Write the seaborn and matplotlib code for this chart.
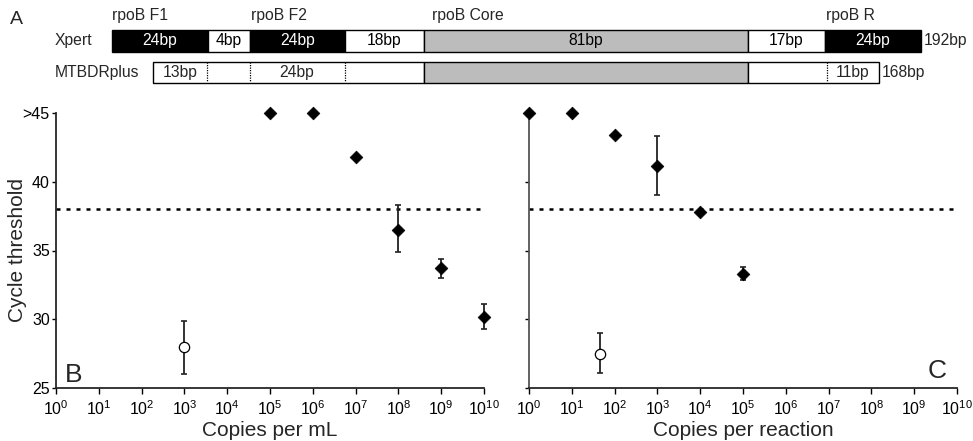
import numpy as np
import pandas as pd
import matplotlib
matplotlib.use("Agg")
import matplotlib.pyplot as plt
import seaborn as sns

### Daten
# Panel B: Kopien pro mL
copies_ml = [1e5, 1e6, 1e7, 1e8, 1e9, 1e10]
ct_ml = [45.0, 45.0, 41.8, 36.5, 33.7, 30.2]
err_lo_ml = [0, 0, 0, 1.6, 0.7, 0.9]
err_hi_ml = [0, 0, 0, 1.8, 0.7, 0.9]
open_ml = [1e3]
open_ct_ml = [28.0]
open_lo_ml = [1.95]
open_hi_ml = [1.85]

# Panel C: Kopien pro Reaktion
copies_rxn = [1, 10, 100, 1e3, 1e4, 1e5]
ct_rxn = [45.0, 45.0, 43.4, 41.15, 37.8, 33.3]
err_lo_rxn = [0, 0, 0, 2.1, 0, 0.45]
err_hi_rxn = [0, 0, 0, 2.2, 0, 0.5]
open_rxn = [45]
open_ct_rxn = [27.5]
open_lo_rxn = [1.4]
open_hi_rxn = [1.5]

threshold = 38.0
y_ticks = [25, 30, 35, 40, 45]
y_ticklabels = ["25", "30", "35", "40", ">45"]
x_decades = list(range(0, 11))

# Panel A: Amplikon-Schema (Segmentgrenzen in Schema-Einheiten)
xpert_edges = [112, 208, 250, 345, 424, 748, 825, 921]
xpert_labels = ["24bp", "4bp", "24bp", "18bp", "81bp", "17bp", "24bp"]
xpert_fill = ["black", "white", "black", "white", "#bcbcbc", "white", "black"]
mtb_edges = [153, 424, 748, 879]
mtb_fill = ["white", "#bcbcbc", "white"]
mtb_dividers = [207, 250, 345, 827]
mtb_label_pos = [180, 297, 853]
mtb_labels = ["13bp", "24bp", "11bp"]
region_names = ["rpoB F1", "rpoB F2", "rpoB Core", "rpoB R"]
region_pos = [112, 251, 432, 826]

### Stil
sns.set_style("ticks")
plt.rcParams['font.family'] = ['Liberation Sans', 'DejaVu Sans']
plt.rcParams['mathtext.fontset'] = 'custom'
plt.rcParams['mathtext.rm'] = 'Liberation Sans'
plt.rcParams['mathtext.it'] = 'Liberation Sans'
plt.rcParams['mathtext.default'] = 'regular'

fig = plt.figure(figsize=(9.73, 4.41), dpi=100)
fs_a = 11.3

### Panel A
ax_a = fig.add_axes([0, 1 - 95 / 441, 1, 95 / 441])
ax_a.set_xlim(0, 973)
ax_a.set_ylim(95, 0)
ax_a.axis("off")

x_left = xpert_edges[:-1]
x_width = np.diff(xpert_edges)
ax_a.barh([40.5] * len(x_width), x_width, left=x_left, height=22,
          color=xpert_fill, edgecolor="black", linewidth=1)
for l, w, lab, c in zip(x_left, x_width, xpert_labels, xpert_fill):
    ax_a.text(l + w / 2, 41, lab, ha="center", va="center", fontsize=fs_a,
              color="white" if c == "black" else "black")

m_left = mtb_edges[:-1]
m_width = np.diff(mtb_edges)
ax_a.barh([72] * len(m_width), m_width, left=m_left, height=21,
          color=mtb_fill, edgecolor="black", linewidth=1)
for d in mtb_dividers:
    ax_a.plot([d, d], [62, 82], color="black", lw=0.9, ls=(0, (1, 1)))
for p, lab in zip(mtb_label_pos, mtb_labels):
    ax_a.text(p, 72.5, lab, ha="center", va="center", fontsize=fs_a)

for name, p in zip(region_names, region_pos):
    ax_a.text(p, 23, name, ha="left", va="bottom", fontsize=fs_a)

ax_a.text(10, 20, "A", ha="left", va="center", fontsize=14)
ax_a.text(55, 41, "Xpert", ha="left", va="center", fontsize=fs_a)
ax_a.text(55, 72, "MTBDRplus", ha="left", va="center", fontsize=fs_a)
ax_a.text(xpert_edges[-1] + 3, 41, "192bp", ha="left", va="center", fontsize=fs_a)
ax_a.text(mtb_edges[-1] + 3, 72, "168bp", ha="left", va="center", fontsize=fs_a)


### Panels B und C
def draw_panel(ax, x, y, lo, hi, ox, oy, olo, ohi, xlabel, left_label):
    ax.axhline(threshold, color="black", lw=1.8, ls=(0, (1.6, 2.4)), zorder=1)
    ax.errorbar(x, y, yerr=[lo, hi], fmt="none", ecolor="#222222",
                elinewidth=1.3, capsize=2.5, capthick=1.2, zorder=2, clip_on=False)
    ax.errorbar(ox, oy, yerr=[olo, ohi], fmt="none", ecolor="#222222",
                elinewidth=1.3, capsize=2.5, capthick=1.2, zorder=2)
    df = pd.DataFrame({"x": x, "y": y})
    sns.scatterplot(data=df, x="x", y="y", marker="D", s=42, color="black",
                    edgecolor="black", linewidth=0.5, ax=ax, zorder=3, clip_on=False)
    df_o = pd.DataFrame({"x": ox, "y": oy})
    sns.scatterplot(data=df_o, x="x", y="y", marker="o", s=55, color="white",
                    edgecolor="black", linewidth=0.9, ax=ax, zorder=3)

    ax.set_xscale("log")
    ax.set_xlim(1, 1e10)
    ax.set_ylim(25, 45)
    ax.set_xticks([10.0 ** d for d in x_decades])
    ax.set_xticklabels([f"10$^{{{d}}}$" for d in x_decades], fontsize=11.5)
    ax.minorticks_off()
    ax.set_yticks(y_ticks)
    if left_label:
        ax.set_yticklabels(y_ticklabels, fontsize=11.5)
        ax.set_ylabel("Cycle threshold", fontsize=15)
        ax.yaxis.set_label_coords(-0.068, 0.5)
    else:
        ax.set_yticklabels([])
        ax.set_ylabel("")
    ax.set_xlabel(xlabel, fontsize=15, labelpad=2)
    ax.tick_params(axis="both", direction="out", length=4, width=1, colors="black")
    ax.tick_params(axis="y", pad=1.5, length=3)
    ax.tick_params(axis="x", pad=4)
    sns.despine(ax=ax)
    for s in ["left", "bottom"]:
        ax.spines[s].set_linewidth(1.3)
    return ax


ax_b = fig.add_axes([56 / 973, 53 / 441, 428 / 973, 275 / 441])
draw_panel(ax_b, copies_ml, ct_ml, err_lo_ml, err_hi_ml,
           open_ml, open_ct_ml, open_lo_ml, open_hi_ml,
           "Copies per mL", True)
ax_b.text(0.02, 0.005, "B", transform=ax_b.transAxes, fontsize=19, ha="left", va="bottom")

ax_c = fig.add_axes([529 / 973, 53 / 441, 428 / 973, 275 / 441])
draw_panel(ax_c, copies_rxn, ct_rxn, err_lo_rxn, err_hi_rxn,
           open_rxn, open_ct_rxn, open_lo_rxn, open_hi_rxn,
           "Copies per reaction", False)
ax_c.spines["left"].set_color("#555555")
ax_c.text(0.975, 0.02, "C", transform=ax_c.transAxes, fontsize=19, ha="right", va="bottom")

fig.savefig("out.png", dpi=100)
